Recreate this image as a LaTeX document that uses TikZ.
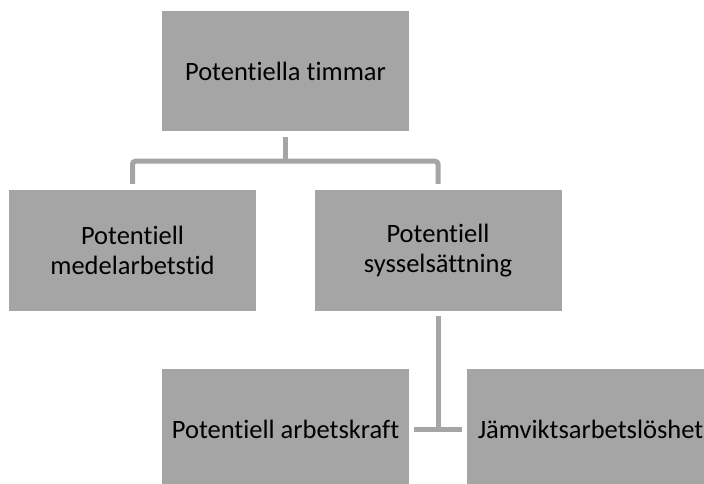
\documentclass[tikz,border=0pt]{standalone}
\usepackage{fontspec}
\setmainfont[Ligatures={NoCommon}]{Carlito}
\definecolor{boxgray}{HTML}{A5A5A5}
\begin{document}
\begin{tikzpicture}[x=1pt,y=1pt,
  box/.style={fill=boxgray, draw=none, minimum width=247pt, minimum height=121pt,
    inner sep=0pt, align=center, text=black, font=\fontsize{26.5}{30}\selectfont},
  conn/.style={draw=boxgray, line width=5pt}]
\useasboundingbox (0,0) rectangle (704,484);
\clip (0,0) rectangle (704,484);
\node[box, minimum height=120pt] (top) at (285.5,413) {Potentiella timmar};
\node[box] (lm) at (132.5,233.5) {Potentiell\\medelarbetstid};
\node[box] (rm) at (438,233.5) {Potentiell\\sysselsättning};
\node[box] (bl) at (285.5,54.5) {Potentiell arbetskraft};
\node[box] (br) at (590.5,54.5) {Jämviktsarbetslöshet};
\coordinate (j) at ([yshift=-30pt]top.south);
\draw[conn] ([yshift=-6pt]top.south) -- (j);
\draw[conn, rounded corners=3pt] ([yshift=6pt]lm.north) |- (j) -| ([yshift=6pt]rm.north);
\draw[conn] ([yshift=-5pt]rm.south) -- (rm.south |- bl.east);
\draw[conn] ([xshift=5pt]bl.east) -- ([xshift=-5pt]br.west);
\end{tikzpicture}
\end{document}
